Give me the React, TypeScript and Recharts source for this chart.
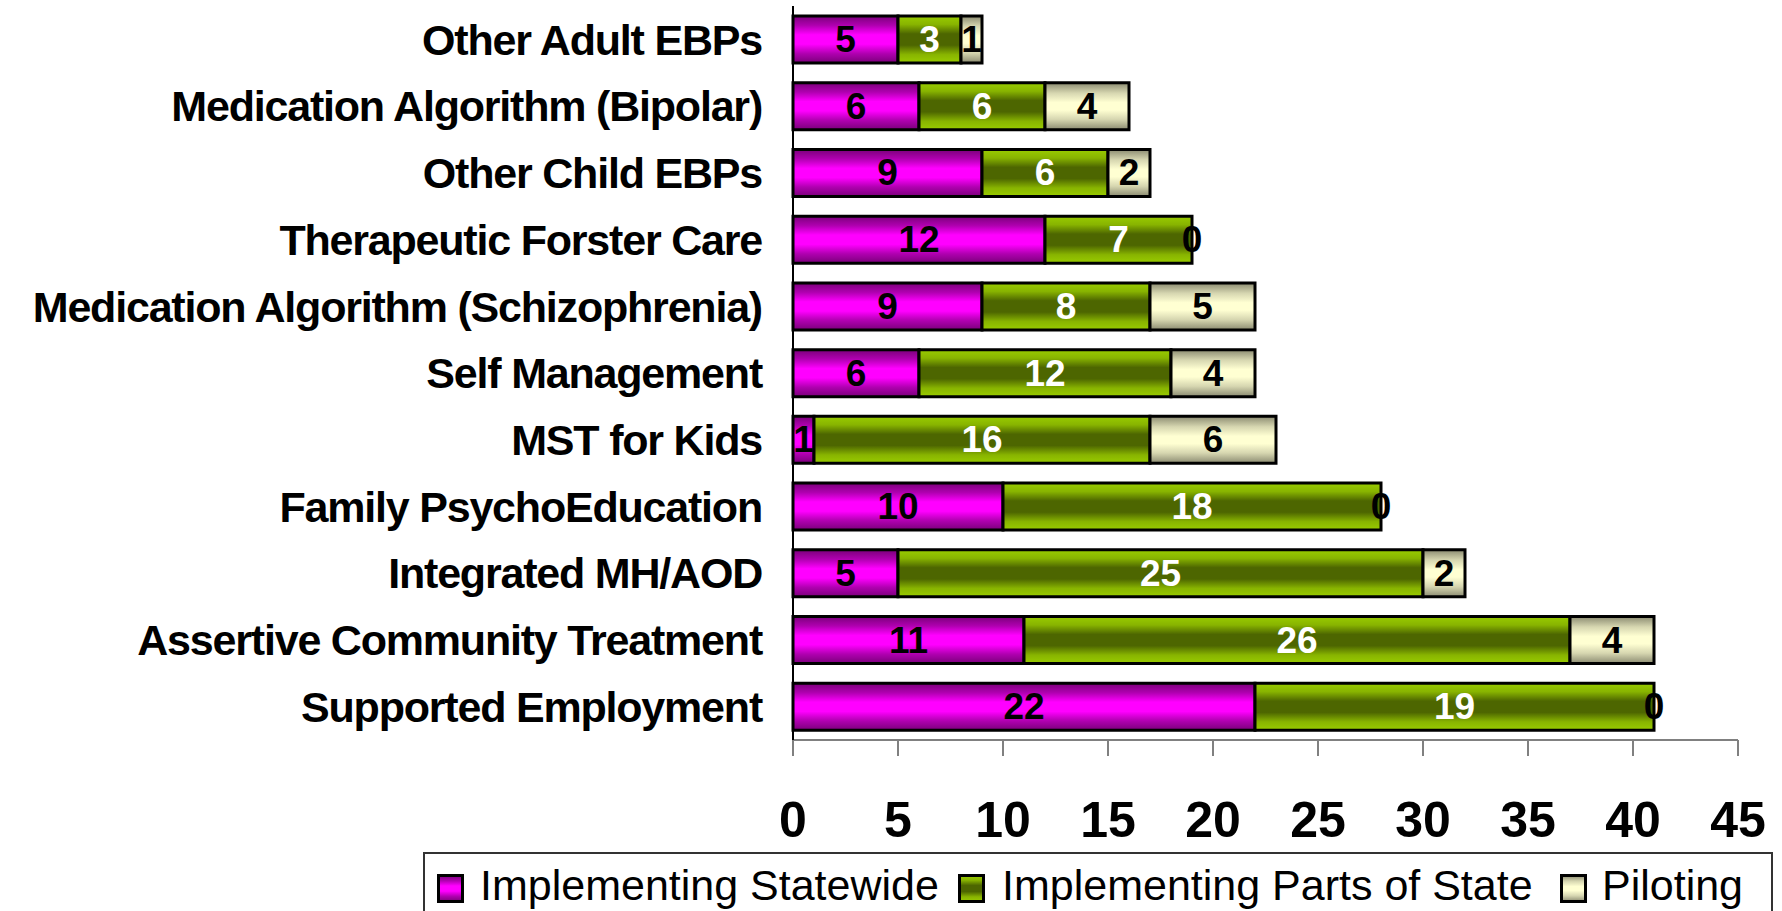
import React from 'react';
import { BarChart, Bar, XAxis, YAxis, LabelList } from 'recharts';

const categories = [
  'Other Adult EBPs',
  'Medication Algorithm (Bipolar)',
  'Other Child EBPs',
  'Therapeutic Forster Care ',
  'Medication Algorithm (Schizophrenia)',
  'Self Management',
  'MST for Kids',
  'Family PsychoEducation',
  'Integrated MH/AOD',
  'Assertive Community Treatment',
  'Supported Employment',
];

const statewide = [5, 6, 9, 12, 9, 6, 1, 10, 5, 11, 22];
const partsOfState = [3, 6, 6, 7, 8, 12, 16, 18, 25, 26, 19];
const piloting = [1, 4, 2, 0, 5, 4, 6, 0, 2, 4, 0];

const xTicks = [0, 5, 10, 15, 20, 25, 30, 35, 40, 45];

const seriesNames = ['Implementing Statewide', 'Implementing Parts of State', 'Piloting'];

const FONT = '"Liberation Sans", Arial, sans-serif';

const chartData = categories.map((name, i) => ({
  name,
  statewide: statewide[i],
  parts: partsOfState[i],
  piloting: piloting[i],
}));

function Gradients({ prefix }: { prefix: string }) {
  return (
    <defs>
      <linearGradient id={`${prefix}-mag`} x1="0" y1="0" x2="0" y2="1">
        <stop offset="0%" stopColor="#7a007a" />
        <stop offset="20%" stopColor="#b000b0" />
        <stop offset="40%" stopColor="#ff00ff" />
        <stop offset="60%" stopColor="#ff00ff" />
        <stop offset="80%" stopColor="#b000b0" />
        <stop offset="100%" stopColor="#7a007a" />
      </linearGradient>
      <linearGradient id={`${prefix}-grn`} x1="0" y1="0" x2="0" y2="1">
        <stop offset="0%" stopColor="#99cc00" />
        <stop offset="18%" stopColor="#88b400" />
        <stop offset="38%" stopColor="#4d6600" />
        <stop offset="62%" stopColor="#4d6600" />
        <stop offset="82%" stopColor="#88b400" />
        <stop offset="100%" stopColor="#99cc00" />
      </linearGradient>
      <linearGradient id={`${prefix}-pil`} x1="0" y1="0" x2="0" y2="1">
        <stop offset="0%" stopColor="#8a8a70" />
        <stop offset="22%" stopColor="#d6d6b0" />
        <stop offset="42%" stopColor="#ffffd2" />
        <stop offset="58%" stopColor="#ffffd2" />
        <stop offset="78%" stopColor="#d6d6b0" />
        <stop offset="100%" stopColor="#8a8a70" />
      </linearGradient>
    </defs>
  );
}

const legendKeys = ['mag', 'grn', 'pil'];
const legendMarkerX = [12, 533, 1135];
const legendTextX = [55, 577, 1177];

function LegendBox() {
  return (
    <div
      style={{
        position: 'absolute',
        left: 423,
        top: 852,
        width: 1350,
        height: 70,
        borderTop: '2px solid #333',
        borderLeft: '2px solid #333',
        borderRight: '2px solid #333',
        boxSizing: 'border-box',
        overflow: 'hidden',
      }}
    >
      {seriesNames.map((name, i) => (
        <React.Fragment key={name}>
          <svg width={28} height={30} style={{ position: 'absolute', left: legendMarkerX[i], top: 20 }}>
            <Gradients prefix={`lg${i}`} />
            <rect x={1.5} y={1.5} width={24} height={26} fill={`url(#lg${i}-${legendKeys[i]})`} stroke="#000" strokeWidth={3} />
          </svg>
          <div
            style={{
              position: 'absolute',
              left: legendTextX[i],
              top: 10,
              fontFamily: FONT,
              fontSize: 43,
              lineHeight: '43px',
              whiteSpace: 'nowrap',
              color: '#000',
            }}
          >
            {name}
          </div>
        </React.Fragment>
      ))}
    </div>
  );
}

// "0" labels for piloting segments that have no width: drawn at the end of the stack
function ZeroPilotingLabel(props: any) {
  const { x, y, width, height, value } = props;
  if (value !== 0) return null;
  return (
    <text
      x={Number(x) + Number(width)}
      y={Number(y) + Number(height) / 2}
      textAnchor="middle"
      dominantBaseline="central"
      fill="#000"
      fontSize={37}
      fontWeight="bold"
      fontFamily={FONT}
    >
      0
    </text>
  );
}

function SegmentLabel(color: string) {
  return (props: any) => {
    const { x, y, width, height, value } = props;
    if (!value) return null;
    return (
      <text
        x={Number(x) + Number(width) / 2}
        y={Number(y) + Number(height) / 2}
        textAnchor="middle"
        dominantBaseline="central"
        fill={color}
        fontSize={37}
        fontWeight="bold"
        fontFamily={FONT}
      >
        {value}
      </text>
    );
  };
}

export default function App() {
  return (
    <div style={{ position: 'absolute', left: 0, top: 0, width: 1782, height: 911, background: '#fff', overflow: 'hidden' }}>
      <BarChart
        width={1782}
        height={911}
        data={chartData}
        layout="vertical"
        margin={{ top: 6, right: 44, left: 0, bottom: 0 }}
        barSize={47}
      >
        <Gradients prefix="bar" />
        <XAxis
          type="number"
          domain={[0, 45]}
          ticks={xTicks}
          interval={0}
          height={171}
          stroke="#808080"
          strokeWidth={2}
          tickSize={16}
          tickMargin={45}
          tick={{ fontSize: 50, fontWeight: 'bold', fill: '#000', fontFamily: FONT }}
        />
        <YAxis
          type="category"
          dataKey="name"
          width={793}
          interval={0}
          stroke="#000"
          strokeWidth={2}
          tickSize={0}
          tickMargin={31}
          tick={{ fontSize: 43, fontWeight: 'bold', fill: '#000', fontFamily: FONT, letterSpacing: -1.2 }}
        />
        <Bar dataKey="statewide" stackId="a" fill="url(#bar-mag)" stroke="#000" strokeWidth={3} isAnimationActive={false}>
          <LabelList dataKey="statewide" content={SegmentLabel('#000')} />
        </Bar>
        <Bar dataKey="parts" stackId="a" fill="url(#bar-grn)" stroke="#000" strokeWidth={3} isAnimationActive={false}>
          <LabelList dataKey="parts" content={SegmentLabel('#fff')} />
          <LabelList dataKey="piloting" content={ZeroPilotingLabel} />
        </Bar>
        <Bar dataKey="piloting" stackId="a" fill="url(#bar-pil)" stroke="#000" strokeWidth={3} isAnimationActive={false}>
          <LabelList dataKey="piloting" content={SegmentLabel('#000')} />
        </Bar>
      </BarChart>
      <LegendBox />
    </div>
  );
}
